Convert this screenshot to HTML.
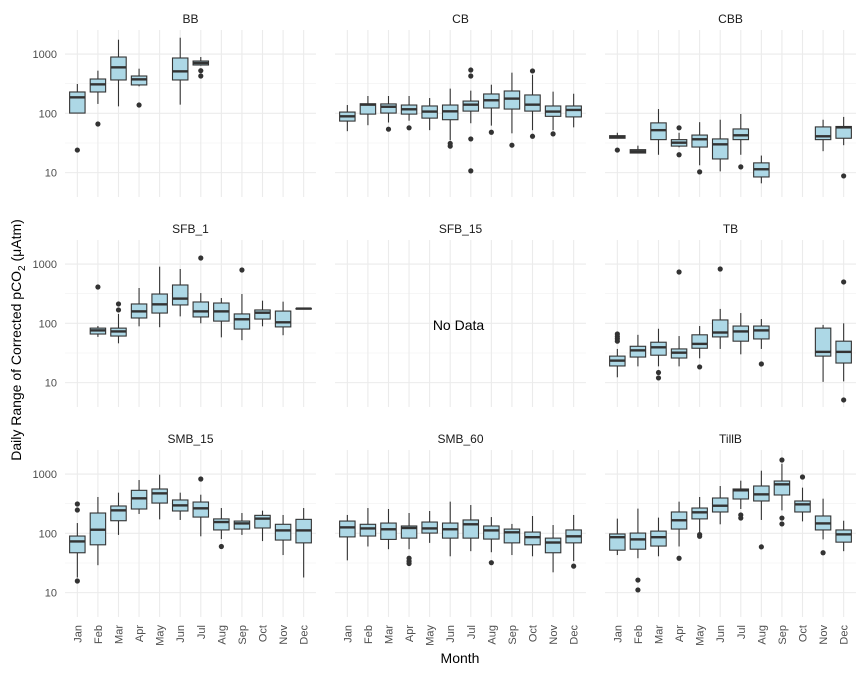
<!DOCTYPE html>
<html><head><meta charset="utf-8"><style>
html,body{margin:0;padding:0;background:#fff;}
svg text{font-family:"Liberation Sans",Arial,sans-serif;}
</style></head><body>
<svg id="chart" width="864" height="672" viewBox="0 0 864 672" xmlns="http://www.w3.org/2000/svg">
<text transform="translate(21,340) rotate(-90)" text-anchor="middle" font-size="14" fill="#000">Daily Range of Corrected pCO<tspan font-size="10" dy="4">2</tspan><tspan dy="-4"> (μAtm)</tspan></text>
<text x="460" y="663" text-anchor="middle" font-size="14" fill="#000">Month</text>
</svg>
<script>
const months = ["Jan","Feb","Mar","Apr","May","Jun","Jul","Aug","Sep","Oct","Nov","Dec"];
const yTicks = [10,100,1000];
const yTickLabels = ["10","100","1000"];
const yMinor = [31.6,316];
const panelNames = ["BB","CB","CBB","SFB_1","SFB_15","TB","SMB_15","SMB_60","TillB"];
// stats per month: [low whisker, q1, median, q3, high whisker]
const BB_stats = [[101,101,186,229,312],[144,229,308,379,524],[131,365,596,890,1745],[285,301,374,426,566],null,[140,365,510,857,1884],[636,653,705,762,890],null,null,null,null,null];
const BB_out = [[0,24],[1,66],[3,138],[6,524],[6,426]];
const CB_stats = [[50,74,89,105,138],[63,97,140,145,196],[70,101,129,144,196],[75,97,117,138,196],[52,83,107,133,181],[35,78,108,138,261],[68,109,140,161,241],[62,123,166,212,304],[46,118,177,238,485],[52,109,140,204,448],[52,89,107,133,232],[58,87,114,133,214]];
const CB_out = [[2,54],[3,57],[5,31],[5,28],[6,537],[6,426],[6,37],[6,10.7],[7,48],[8,29],[9,518],[9,41],[10,45]];
const CBB_stats = [[38,38,40,42,47],[21.4,21.4,22.9,24.4,28.5],[20,36,52,69,118],[26.7,28,32,36,47],[13.3,27,36.5,43,71],[10.5,17,30,37,78],[20,36,42.6,54.5,97.5],[6.6,8.45,11.4,14.6,19.4],null,null,[23,36,41,59,78],[29,38,58,60,87]];
const CBB_out = [[0,24],[3,57],[3,20],[4,10.3],[6,12.5],[11,8.8]];
const SFB1_stats = [null,[59,66,76,83,90],[46,61,73,83,144],[89,123,159,212,394],[86,149,209,312,902],[131,204,261,443,824],[100,128,159,229,324],[58,109,159,220,267],[52,80,117,144,312],[89,118,151,168,241],[63,87,104,161,232],[176,176,177,178,178]];
const SFB1_out = [[1,410],[2,212],[2,168],[6,1262],[8,792]];
const SFB15_stats = [null,null,null,null,null,null,null,null,null,null,null,null];
const SFB15_out = [];
const TB_stats = [[12.3,19.1,23.5,28,37],[18.8,27,35,41,64],[18.8,29,39.4,48,81],[18.8,26,32,37,61],[25.7,38,45,64,90],[37,59,70,114,175],[30,50,73,90,149],[37,54.5,76,90,118],null,null,[10.3,28,33,83,94],[10.5,21.4,33,50,100]];
const TB_out = [[0,66],[0,60],[0,55],[0,50],[2,14.8],[2,12],[3,733],[4,18.4],[5,824],[7,20.6],[11,498],[11,5.1]];
const SMB15_stats = [[18,47,73,90,149],[29,64,115,220,410],[94,163,244,289,485],[212,257,389,531,792],[172,324,472,559,975],[168,238,296,365,485],[89,188,264,337,448],[80,114,155,175,267],[94,118,147,161,220],[74,123,177,201,241],[43,77,112,142,204],[18,69,112,172,267]];
const SMB15_out = [[0,312],[0,247],[0,15.7],[6,824],[7,60]];
const SMB60_stats = [[35,87,126,161,204],[60,90,121,142,267],[54,79,117,149,257],[54,83,123,133,220],[69,101,121,155,238],[41,83,117,149,342],[50,83,142,168,300],[48,80,112,133,188],[43,69,104,118,144],[41,64,86,105,196],[22,47,70,83,138],[34,69,89,114,204]];
const SMB60_out = [[3,38],[3,34],[3,31],[7,32],[11,28]];
const TillB_stats = [[43,52,86,97.5,177],[38,54,79,101,261],[41,61,86,109,184],[60,118,166,229,342],[97.5,175,226,267,410],[142,229,292,394,628],[257,379,531,559,772],[168,351,454,628,1138],[244,443,670,762,1493],[159,229,308,351,589],[79,114,147,196,384],[50,71,96,114,163]];
const TillB_out = [[1,16.3],[1,11.1],[3,38],[4,95],[4,89],[6,204],[6,181],[7,59],[8,1722],[8,181],[8,144],[9,890],[10,47]];

const allStats = [BB_stats,CB_stats,CBB_stats,SFB1_stats,SFB15_stats,TB_stats,SMB15_stats,SMB60_stats,TillB_stats];
const allOut = [BB_out,CB_out,CBB_out,SFB1_out,SFB15_out,TB_out,SMB15_out,SMB60_out,TillB_out];

const NS = "http://www.w3.org/2000/svg";
const svg = document.getElementById("chart");
const colX = [65,335,605], rowY = [30,240,450], PW = 251, PH = 167;
const LMAX = 3.405, LMIN = 0.589;
function mk(tag, attrs, parent){ const e=document.createElementNS(NS,tag); for(const k in attrs) e.setAttribute(k,attrs[k]); (parent||svg).appendChild(e); return e; }

panelNames.forEach((name, p) => {
  const c = p % 3, r = Math.floor(p / 3);
  const x0 = colX[c], y0 = rowY[r];
  const g = mk("g", {});
  
  
  const band = PW / 12.2;
  const xs = i => x0 + (0.6 + i) * band;
  const ys = v => y0 + (LMAX - Math.log10(v)) / (LMAX - LMIN) * PH;
  // grid
  yMinor.forEach(v => { const l = mk("line",{x1:x0,x2:x0+PW,y1:ys(v),y2:ys(v),stroke:"#f0f0f0","stroke-width":0.6},g);   });
  yTicks.forEach(v => { const l = mk("line",{x1:x0,x2:x0+PW,y1:ys(v),y2:ys(v),stroke:"#ebebeb","stroke-width":1.1},g);   });
  months.forEach((m,i) => { const l = mk("line",{x1:xs(i),x2:xs(i),y1:y0,y2:y0+PH,stroke:"#ebebeb","stroke-width":1.1},g);   });
  // strip title
  const t = mk("text",{x:x0+PW/2,y:y0-7,"text-anchor":"middle","font-size":12,fill:"#1a1a1a"},g);
  t.textContent = name;
  
  
  // y ticks labels
  if (c === 0) yTicks.forEach((v,k) => {
    const tl = mk("text",{x:57,y:ys(v)+4,"text-anchor":"end","font-size":11,fill:"#4d4d4d"},g);
    tl.textContent = yTickLabels[k];
    
    
  });
  // x labels
  if (r === 2) months.forEach((m,i) => {
    const xl = mk("text",{transform:`translate(${xs(i)+4},625) rotate(-90)`,"text-anchor":"end","font-size":11,fill:"#4d4d4d"},g);
    xl.textContent = m;
    
    
  });
  const stats = allStats[p];
  const bw = band * 0.75;
  stats.forEach((s,i) => {
    if (!s) return;
    const cx = xs(i);
    const bg = mk("g",{},g);
    
    
    mk("line",{x1:cx,x2:cx,y1:ys(s[4]),y2:ys(s[3]),stroke:"#333","stroke-width":1.1},bg);
    mk("line",{x1:cx,x2:cx,y1:ys(s[1]),y2:ys(s[0]),stroke:"#333","stroke-width":1.1},bg);
    mk("rect",{x:cx-bw/2,y:ys(s[3]),width:bw,height:Math.max(0.5,ys(s[1])-ys(s[3])),fill:"#add8e6",stroke:"#333","stroke-width":1.1},bg);
    mk("line",{x1:cx-bw/2,x2:cx+bw/2,y1:ys(s[2]),y2:ys(s[2]),stroke:"#333","stroke-width":2.4},bg);
  });
  allOut[p].forEach(o => {
    const d = mk("circle",{cx:xs(o[0]),cy:ys(o[1]),r:2.6,fill:"#333"},g);
    
    
  });
  if (stats.every(s => !s)) {
    const nd = mk("text",{x:x0+PW/2-2,y:y0+90,"text-anchor":"middle","font-size":14,fill:"#000"},g);
    nd.textContent = "No Data";
    
    
  }
});
</script>
</body></html>
